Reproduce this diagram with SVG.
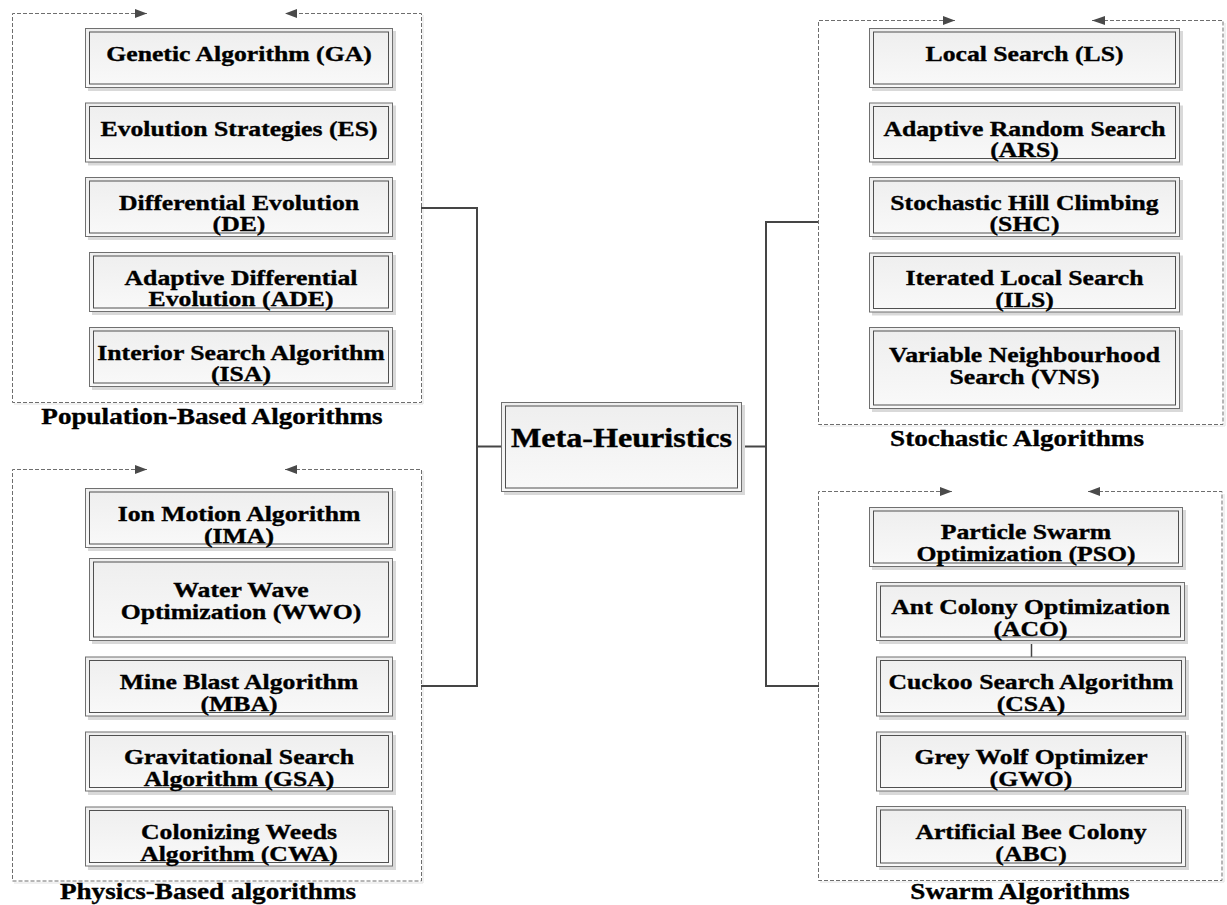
<svg xmlns="http://www.w3.org/2000/svg" width="1227" height="905" viewBox="0 0 1227 905">
<defs>
<linearGradient id="g" x1="0" y1="0" x2="0" y2="1">
<stop offset="0" stop-color="#eeeeee"/>
<stop offset="1" stop-color="#f9f9f9"/>
</linearGradient>
</defs>
<style>
.dash{fill:none;stroke:#6e6e6e;stroke-width:1;stroke-dasharray:4 2}
.dsh{fill:none;stroke:#e2e2e2;stroke-width:1}
.shadow{fill:#d9d9d9;stroke:none}
.outer{fill:url(#g);stroke:#707070;stroke-width:1}
.inner{fill:none;stroke:#505050;stroke-width:1}
.ah{fill:#4a4a4a}
.con{fill:none;stroke:#454545;stroke-width:2}
.t{font-family:"Liberation Serif","Times New Roman",serif;font-weight:bold;font-size:21.6px;fill:#000;stroke:#000;stroke-width:0.35;text-anchor:middle}
.lbl{font-family:"Liberation Serif","Times New Roman",serif;font-weight:bold;font-size:23px;fill:#000;stroke:#000;stroke-width:0.35;text-anchor:middle}
.big{font-family:"Liberation Serif","Times New Roman",serif;font-weight:bold;font-size:27px;fill:#000;stroke:#000;stroke-width:0.4;text-anchor:middle}
</style>
<rect width="1227" height="905" fill="#fff"/>

<!-- Group containers -->
<g id="group-population">
<path class="dsh" d="M423,15 V404 H14"/>
<path class="dash" d="M147,13.5 H12.5 V402.5 H421.5 V13.5 H285"/>
<polygon class="ah" points="135,9 147,13.5 135,18"/>
<polygon class="ah" points="297,9 285,13.5 297,18"/>
<text class="lbl" transform="translate(212,424) scale(1.18,1)">Population-Based Algorithms</text>
</g>
<g id="group-physics">
<path class="dsh" d="M423,471 V883 H14"/>
<path class="dash" d="M147,469.5 H12.5 V881 H421.5 V469.5 H285"/>
<polygon class="ah" points="135,465 147,469.5 135,474"/>
<polygon class="ah" points="297,465 285,469.5 297,474"/>
<text class="lbl" transform="translate(208,899) scale(1.18,1)">Physics-Based algorithms</text>
</g>
<g id="group-stochastic">
<path class="dsh" d="M1225,23 V426 H820"/>
<path class="dash" d="M955,20.5 H818.5 V424.5 H1223 V20.5 H1092"/>
<polygon class="ah" points="943,16 955,20.5 943,25"/>
<polygon class="ah" points="1105,16 1092,20.5 1105,25"/>
<text class="lbl" transform="translate(1017,446) scale(1.18,1)">Stochastic Algorithms</text>
</g>
<g id="group-swarm">
<path class="dsh" d="M1224,494 V882 H820"/>
<path class="dash" d="M952,491.5 H818.5 V880.5 H1222 V491.5 H1088"/>
<polygon class="ah" points="940,487 952,491.5 940,496"/>
<polygon class="ah" points="1100,487 1088,491.5 1100,496"/>
<text class="lbl" transform="translate(1020,899) scale(1.18,1)">Swarm Algorithms</text>
</g>

<!-- Connectors -->
<g id="connectors">
<path class="con" d="M421,208 H477 V686 H421"/>
<path class="con" d="M477,446.5 H501"/>
<path class="con" d="M818,222 H766 V686 H819"/>
<path class="con" d="M742,446.5 H766"/>
<path class="con" d="M1031.5,641 V657" style="stroke-width:1.5"/>
</g>

<!-- Central node -->
<g id="node-meta">
<rect class="shadow" x="504" y="405" width="241" height="90"/>
<rect class="outer" x="501.5" y="402.5" width="240" height="89"/>
<rect class="inner" x="505.5" y="406" width="232" height="82"/>
<text class="big" transform="translate(621.5,447) scale(1.19,1)">Meta-Heuristics</text>
</g>

<!-- Population-based -->
<g id="node-ga">
<rect class="shadow" x="88" y="31" width="308" height="60"/>
<rect class="outer" x="85.5" y="28.5" width="307" height="59"/>
<rect class="inner" x="89.5" y="32" width="299" height="52"/>
<text class="t" transform="translate(239,61) scale(1.19,1)">Genetic Algorithm (GA)</text>
</g>
<g id="node-es">
<rect class="shadow" x="88" y="105.5" width="308" height="60"/>
<rect class="outer" x="85.5" y="103" width="307" height="59"/>
<rect class="inner" x="89.5" y="106.5" width="299" height="52"/>
<text class="t" transform="translate(239,135.5) scale(1.19,1)">Evolution Strategies (ES)</text>
</g>
<g id="node-de">
<rect class="shadow" x="88" y="180" width="308" height="60"/>
<rect class="outer" x="85.5" y="177.5" width="307" height="59"/>
<rect class="inner" x="89.5" y="181" width="299" height="52"/>
<text class="t" transform="translate(239,209.5) scale(1.19,1)">Differential Evolution<tspan x="0" dy="22">(DE)</tspan></text>
</g>
<g id="node-ade">
<rect class="shadow" x="92" y="255" width="304" height="60"/>
<rect class="outer" x="89.5" y="252.5" width="303" height="59"/>
<rect class="inner" x="93.5" y="256" width="295" height="52"/>
<text class="t" transform="translate(241,284.5) scale(1.19,1)">Adaptive Differential<tspan x="0" dy="22">Evolution (ADE)</tspan></text>
</g>
<g id="node-isa">
<rect class="shadow" x="92" y="330" width="304" height="60"/>
<rect class="outer" x="89.5" y="327.5" width="303" height="59"/>
<rect class="inner" x="93.5" y="331" width="295" height="52"/>
<text class="t" transform="translate(241,359.5) scale(1.19,1)">Interior Search Algorithm<tspan x="0" dy="22">(ISA)</tspan></text>
</g>

<!-- Physics-based -->
<g id="node-ima">
<rect class="shadow" x="88" y="491" width="308" height="60"/>
<rect class="outer" x="85.5" y="488.5" width="307" height="59"/>
<rect class="inner" x="89.5" y="492" width="299" height="52"/>
<text class="t" transform="translate(239,520.5) scale(1.19,1)">Ion Motion Algorithm<tspan x="0" dy="22.5">(IMA)</tspan></text>
</g>
<g id="node-wwo">
<rect class="shadow" x="92" y="561" width="304" height="83"/>
<rect class="outer" x="89.5" y="558.5" width="303" height="82"/>
<rect class="inner" x="93.5" y="562" width="295" height="75"/>
<text class="t" transform="translate(241,597) scale(1.19,1)">Water Wave<tspan x="0" dy="22.5">Optimization (WWO)</tspan></text>
</g>
<g id="node-mba">
<rect class="shadow" x="88" y="660" width="308" height="60"/>
<rect class="outer" x="85.5" y="657" width="307" height="59"/>
<rect class="inner" x="89.5" y="660.5" width="299" height="52"/>
<text class="t" transform="translate(239,689) scale(1.19,1)">Mine Blast Algorithm<tspan x="0" dy="22.5">(MBA)</tspan></text>
</g>
<g id="node-gsa">
<rect class="shadow" x="88" y="735" width="308" height="60"/>
<rect class="outer" x="85.5" y="732" width="307" height="59"/>
<rect class="inner" x="89.5" y="735.5" width="299" height="52"/>
<text class="t" transform="translate(239,764) scale(1.19,1)">Gravitational Search<tspan x="0" dy="22.5">Algorithm (GSA)</tspan></text>
</g>
<g id="node-cwa">
<rect class="shadow" x="88" y="810" width="308" height="60"/>
<rect class="outer" x="85.5" y="807" width="307" height="59"/>
<rect class="inner" x="89.5" y="810.5" width="299" height="52"/>
<text class="t" transform="translate(239,839) scale(1.19,1)">Colonizing Weeds<tspan x="0" dy="22.5">Algorithm (CWA)</tspan></text>
</g>

<!-- Stochastic -->
<g id="node-ls">
<rect class="shadow" x="872" y="31" width="311" height="60"/>
<rect class="outer" x="869.5" y="28.5" width="310" height="59"/>
<rect class="inner" x="873.5" y="32" width="302" height="52"/>
<text class="t" transform="translate(1024.5,61) scale(1.19,1)">Local Search (LS)</text>
</g>
<g id="node-ars">
<rect class="shadow" x="872" y="105.5" width="311" height="60"/>
<rect class="outer" x="869.5" y="103" width="310" height="59"/>
<rect class="inner" x="873.5" y="106.5" width="302" height="52"/>
<text class="t" transform="translate(1024.5,135.5) scale(1.19,1)">Adaptive Random Search<tspan x="0" dy="22">(ARS)</tspan></text>
</g>
<g id="node-shc">
<rect class="shadow" x="872" y="180" width="311" height="60"/>
<rect class="outer" x="869.5" y="177.5" width="310" height="59"/>
<rect class="inner" x="873.5" y="181" width="302" height="52"/>
<text class="t" transform="translate(1024.5,209.5) scale(1.19,1)">Stochastic Hill Climbing<tspan x="0" dy="22">(SHC)</tspan></text>
</g>
<g id="node-ils">
<rect class="shadow" x="872" y="255.5" width="311" height="60"/>
<rect class="outer" x="869.5" y="253" width="310" height="59"/>
<rect class="inner" x="873.5" y="256.5" width="302" height="52"/>
<text class="t" transform="translate(1024.5,285) scale(1.19,1)">Iterated Local Search<tspan x="0" dy="22">(ILS)</tspan></text>
</g>
<g id="node-vns">
<rect class="shadow" x="872" y="330" width="311" height="82"/>
<rect class="outer" x="869.5" y="327.5" width="310" height="81"/>
<rect class="inner" x="873.5" y="331" width="302" height="74"/>
<text class="t" transform="translate(1024.5,362) scale(1.19,1)">Variable Neighbourhood<tspan x="0" dy="22.5">Search (VNS)</tspan></text>
</g>

<!-- Swarm -->
<g id="node-pso">
<rect class="shadow" x="872" y="510" width="314" height="60"/>
<rect class="outer" x="869.5" y="507.5" width="313" height="59"/>
<rect class="inner" x="873.5" y="511" width="305" height="52"/>
<text class="t" transform="translate(1026,538.5) scale(1.19,1)">Particle Swarm<tspan x="0" dy="23">Optimization (PSO)</tspan></text>
</g>
<g id="node-aco">
<rect class="shadow" x="879" y="585" width="309" height="59"/>
<rect class="outer" x="876.5" y="582.5" width="308" height="58"/>
<rect class="inner" x="880.5" y="586" width="300" height="51"/>
<text class="t" transform="translate(1030.5,613.5) scale(1.19,1)">Ant Colony Optimization<tspan x="0" dy="23">(ACO)</tspan></text>
</g>
<g id="node-csa">
<rect class="shadow" x="879" y="660" width="310" height="60"/>
<rect class="outer" x="876.5" y="657" width="309" height="59"/>
<rect class="inner" x="880.5" y="660.5" width="301" height="52"/>
<text class="t" transform="translate(1031,689) scale(1.19,1)">Cuckoo Search Algorithm<tspan x="0" dy="22.5">(CSA)</tspan></text>
</g>
<g id="node-gwo">
<rect class="shadow" x="879" y="735" width="310" height="60"/>
<rect class="outer" x="876.5" y="732" width="309" height="59"/>
<rect class="inner" x="880.5" y="735.5" width="301" height="52"/>
<text class="t" transform="translate(1031,764) scale(1.19,1)">Grey Wolf Optimizer<tspan x="0" dy="22.5">(GWO)</tspan></text>
</g>
<g id="node-abc">
<rect class="shadow" x="879" y="809" width="310" height="61"/>
<rect class="outer" x="876.5" y="806.5" width="309" height="60"/>
<rect class="inner" x="880.5" y="810" width="301" height="53"/>
<text class="t" transform="translate(1031,839) scale(1.19,1)">Artificial Bee Colony<tspan x="0" dy="22.5">(ABC)</tspan></text>
</g>
</svg>
